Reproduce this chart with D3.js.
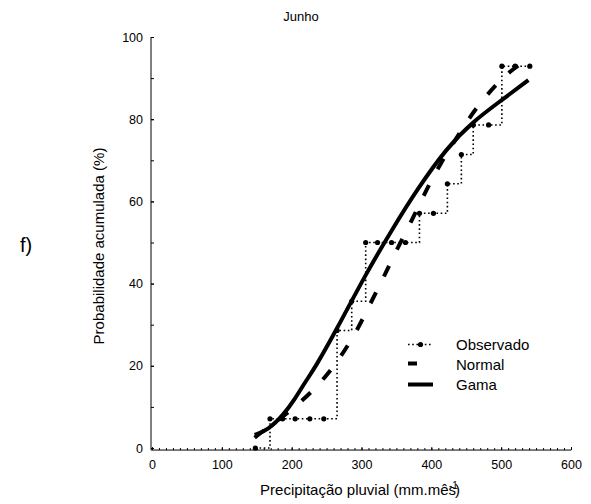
<!DOCTYPE html>
<html>
<head>
<meta charset="utf-8">
<script src="https://cdn.jsdelivr.net/npm/d3@7"></script>
<style>
  body { margin: 0; background: #fff; }
  text { font-family: "Liberation Sans", Arial, sans-serif; fill: #000; }
</style>
</head>
<body>
<div id="chart"></div>
<script>
// Observed cumulative frequency (step line with markers)
const obsX = [148, 169, 187, 205, 226, 246, 265, 286, 306, 323, 343, 363, 383, 403, 423, 443, 460, 482, 501, 520, 541];
const obsY = [0, 7.1, 7.1, 7.1, 7.1, 7.1, 28.6, 35.7, 50, 50, 50, 50, 57.1, 57.1, 64.3, 71.4, 78.6, 78.6, 92.9, 92.9, 92.9];

// Normal curve
const normalX = [147, 157, 175, 193, 215, 240, 265, 291, 311, 331, 348, 370, 389, 412, 440, 463, 496, 517, 537];
const normalY = [2.5, 3.9, 6.0, 8.4, 11.5, 15.6, 20.8, 27.7, 34.6, 41.2, 47.5, 54.6, 61.5, 69, 76.5, 82.6, 89.1, 92.2, 94.6];

// Gama curve
const gamaX = [147, 166, 188, 205, 221, 233, 264, 305, 345, 380, 422, 460, 498, 539];
const gamaY = [3.2, 4.4, 8.0, 12, 16.5, 19.4, 28.7, 42, 53.5, 63, 73, 79.5, 84.3, 89.5];

// Tick values
const xMajorTicks = [0, 100, 200, 300, 400, 500, 600];
const yMajorTicks = [0, 20, 40, 60, 80, 100];
const xMinorTicks = d3.range(0, 601, 10);
const yMinorTicks = d3.range(0, 101, 10);

const legendItems = ["Observado", "Normal", "Gama"];

function drawChart() {
  const width = 591;
  const height = 504;

  const svg = d3
    .select("#chart")
    .append("svg")
    .attr("width", width)
    .attr("height", height);

  // Scales
  const xScale = d3.scaleLinear().domain([0, 600]).range([152, 571]);
  const yScale = d3.scaleLinear().domain([0, 100]).range([448, 37]);
  const axisY = yScale(-0.5);

  // Minor ticks (no labels)
  svg
    .append("g")
    .attr("transform", `translate(0, ${axisY})`)
    .call(d3.axisBottom(xScale).tickValues(xMinorTicks).tickSize(-2).tickFormat(""))
    .call((g) => g.select(".domain").remove());

  svg
    .append("g")
    .attr("transform", `translate(151, 0)`)
    .call(d3.axisLeft(yScale).tickValues(yMinorTicks).tickSize(-3).tickFormat(""))
    .call((g) => g.select(".domain").remove());

  // X axis
  const xAxis = svg
    .append("g")
    .attr("transform", `translate(0, ${axisY})`)
    .call(d3.axisBottom(xScale).tickValues(xMajorTicks).tickSize(-3).tickSizeOuter(0).tickPadding(10));
  xAxis.select(".domain").attr("d", `M151,0H571`);
  xAxis.selectAll("text").style("font-size", "12.5px").style("font-family", "Liberation Sans, Arial, sans-serif");

  // Y axis
  const yAxis = svg
    .append("g")
    .attr("transform", `translate(151, 0)`)
    .call(d3.axisLeft(yScale).tickValues(yMajorTicks).tickSize(-3).tickSizeOuter(0).tickPadding(8));
  yAxis.select(".domain").attr("d", `M0,${yScale(100)}V${axisY}`);
  yAxis.selectAll("text").style("font-size", "12.5px").style("font-family", "Liberation Sans, Arial, sans-serif");

  svg.selectAll(".tick line, .domain").attr("stroke", "#000").attr("stroke-width", 1);

  // Observed step line
  const obsData = obsX.map((x, i) => ({ x, y: obsY[i] }));
  svg
    .append("path")
    .datum(obsData)
    .attr("fill", "none")
    .attr("stroke", "#000")
    .attr("stroke-width", 1.6)
    .attr("stroke-dasharray", "1.6,2.6")
    .attr("d", d3.line().x((d) => xScale(d.x)).y((d) => yScale(d.y)).curve(d3.curveStepAfter));

  svg
    .selectAll(".obs-dot")
    .data(obsData)
    .enter()
    .append("circle")
    .attr("class", "obs-dot")
    .attr("cx", (d) => xScale(d.x))
    .attr("cy", (d) => yScale(d.y))
    .attr("r", 2.6)
    .attr("fill", "#000");

  // Normal and Gama curves
  const curveLine = d3.line().x((d) => xScale(d.x)).y((d) => yScale(d.y)).curve(d3.curveBasis);

  svg
    .append("path")
    .datum(normalX.map((x, i) => ({ x, y: normalY[i] })))
    .attr("fill", "none")
    .attr("stroke", "#000")
    .attr("stroke-width", 4)
    .attr("stroke-dasharray", "12,18")
    .attr("d", curveLine);

  svg
    .append("path")
    .datum(gamaX.map((x, i) => ({ x, y: gamaY[i] })))
    .attr("fill", "none")
    .attr("stroke", "#000")
    .attr("stroke-width", 4)
    .attr("d", curveLine);

  // Legend
  const legend = svg.append("g").attr("transform", "translate(408, 344.5)");
  const rowGap = 20;

  legend
    .append("line")
    .attr("x1", 0).attr("x2", 25).attr("y1", 0).attr("y2", 0)
    .attr("stroke", "#000").attr("stroke-width", 1.6).attr("stroke-dasharray", "1.6,2.6");
  legend.append("circle").attr("cx", 12.5).attr("cy", 0).attr("r", 2.6).attr("fill", "#000");

  legend
    .append("line")
    .attr("x1", 0).attr("x2", 9).attr("y1", rowGap - 1).attr("y2", rowGap - 1)
    .attr("stroke", "#000").attr("stroke-width", 4);

  legend
    .append("line")
    .attr("x1", 0).attr("x2", 25).attr("y1", rowGap * 2).attr("y2", rowGap * 2)
    .attr("stroke", "#000").attr("stroke-width", 4);

  legend
    .selectAll(".legend-label")
    .data(legendItems)
    .enter()
    .append("text")
    .attr("class", "legend-label")
    .attr("x", 48)
    .attr("y", (d, i) => i * rowGap + 5.4)
    .style("font-size", "15px")
    .text((d) => d);

  // Title
  svg
    .append("text")
    .attr("x", 301)
    .attr("y", 21)
    .attr("text-anchor", "middle")
    .style("font-size", "13px")
    .text("Junho");

  // Axis titles
  const xTitle = svg
    .append("text")
    .attr("x", 360)
    .attr("y", 495)
    .attr("text-anchor", "middle")
    .style("font-size", "15px");
  xTitle.append("tspan").text("Precipitação pluvial (mm.mês");
  xTitle.append("tspan").attr("dx", -7).attr("dy", -6).style("font-size", "10px").text("-1");
  xTitle.append("tspan").attr("dx", -3).attr("dy", 6).text(")");

  svg
    .append("text")
    .attr("transform", "translate(103.5, 246) rotate(-90)")
    .attr("text-anchor", "middle")
    .style("font-size", "15px")
    .text("Probabilidade acumulada (%)");

  // Panel label
  svg
    .append("text")
    .attr("x", 20)
    .attr("y", 252)
    .style("font-size", "20px")
    .text("f)");
}

drawChart();
</script>
</body>
</html>
